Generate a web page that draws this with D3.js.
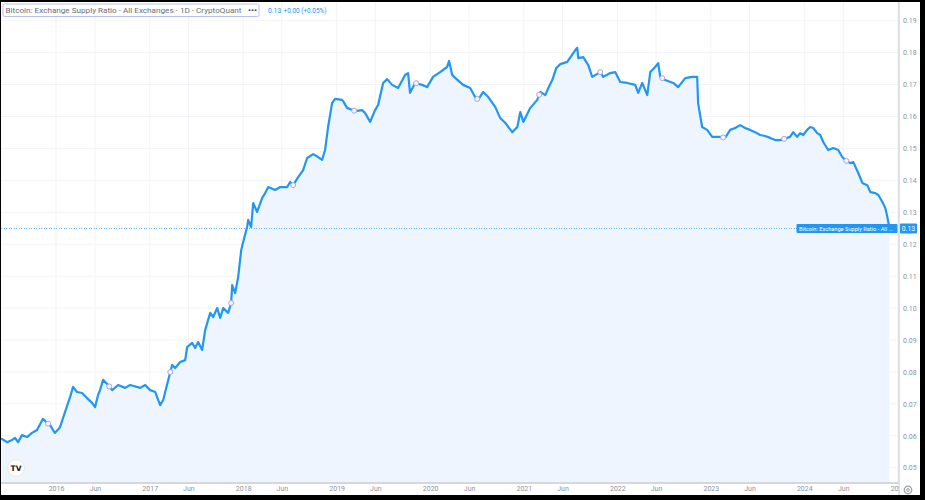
<!DOCTYPE html>
<html><head><meta charset="utf-8">
<script src="https://cdn.jsdelivr.net/npm/d3@7"></script>
<style>html,body{margin:0;padding:0;background:#000;} svg{display:block;}</style>
</head><body>
<svg id="chart" width="925" height="500"></svg>
<script>
// time as decimal years
const years = [2015.423,2015.476,2015.530,2015.562,2015.594,2015.636,2015.690,2015.743,2015.797,2015.861,2015.904,2015.936,2015.968,2015.989,2016.043,2016.096,2016.150,2016.182,2016.225,2016.278,2016.331,2016.385,2016.417,2016.449,2016.470,
2016.502,2016.556,2016.599,2016.663,2016.738,2016.791,2016.898,2016.952,2017.005,2017.059,2017.112,2017.144,2017.198,2017.240,2017.272,2017.326,
2017.379,2017.401,2017.454,2017.486,2017.518,2017.561,2017.593,2017.647,2017.679,2017.722,2017.754,2017.786,2017.839,2017.871,2017.882,2017.914,2017.946,2017.979,2018.000,2018.042,2018.053,2018.085,2018.107,2018.149,2018.203,2018.235,2018.268,2018.342,2018.396,2018.470,2018.502,2018.534,2018.588,2018.641,
2018.684,2018.748,2018.801,2018.844,2018.876,2018.908,2018.951,2018.983,2019.058,2019.069,2019.111,2019.197,2019.272,2019.304,2019.358,2019.411,2019.443,2019.497,2019.540,2019.593,2019.657,2019.732,2019.764,2019.785,2019.839,2019.914,2019.967,2020.031,2020.106,2020.181,2020.202,2020.235,2020.267,2020.352,2020.427,2020.480,2020.512,2020.566,2020.620,2020.694,2020.748,2020.801,2020.876,2020.930,2020.962,2020.994,2021.069,2021.143,2021.176,2021.229,2021.261,2021.304,2021.347,2021.390,
2021.464,2021.550,2021.571,2021.582,2021.635,2021.689,2021.731,2021.817,2021.849,2021.924,2021.977,2022.031,2022.106,2022.191,2022.223,2022.266,2022.320,2022.352,2022.405,2022.437,2022.459,2022.512,2022.598,2022.651,2022.726,2022.801,2022.854,2022.864,2022.907,2022.961,2023.014,2023.100,
2023.153,2023.207,2023.260,2023.314,2023.367,2023.420,2023.474,2023.527,2023.581,2023.635,2023.688,
2023.741,2023.784,2023.848,2023.881,2023.923,2023.955,2023.988,2024.030,2024.063,2024.095,2024.138,2024.170,2024.202,2024.255,2024.309,2024.362,2024.405,2024.448,2024.491,2024.523,2024.576,2024.619,2024.672,2024.705,2024.758,2024.790,2024.833,2024.865,2024.886,2024.908];
const ratios = [0.0590,0.0580,0.0587,0.0593,0.0580,0.0602,0.0596,0.0609,0.0618,0.0653,0.0640,0.0634,0.0618,0.0609,0.0627,0.0674,0.0721,0.0753,0.0737,0.0734,0.0718,0.0703,0.0690,0.0728,0.0743,
0.0775,0.0759,0.0743,0.0759,0.0750,0.0759,0.0750,0.0759,0.0743,0.0737,0.0696,0.0712,0.0775,0.0822,0.0812,0.0831,
0.0837,0.0878,0.0891,0.0875,0.0894,0.0869,0.0931,0.0985,0.0972,0.1000,0.0969,0.1000,0.0985,0.1016,0.1072,0.1047,0.1097,0.1182,0.1207,0.1254,0.1276,0.1254,0.1329,0.1301,0.1345,0.1360,0.1379,0.1370,0.1379,0.1379,0.1395,0.1385,0.1410,0.1432,
0.1470,0.1482,0.1473,0.1464,0.1495,0.1567,0.1642,0.1655,0.1652,0.1648,0.1627,0.1617,0.1620,0.1611,0.1583,0.1620,0.1636,0.1705,0.1717,0.1699,0.1689,0.1730,0.1736,0.1674,0.1705,0.1699,0.1692,0.1724,0.1739,0.1755,0.1774,0.1730,0.1721,0.1699,0.1689,0.1661,0.1652,0.1677,0.1661,0.1630,0.1595,0.1580,0.1551,0.1567,0.1614,0.1583,0.1627,0.1652,0.1677,0.1667,0.1689,0.1714,0.1752,0.1764,
0.1771,0.1808,0.1815,0.1783,0.1786,0.1761,0.1724,0.1739,0.1724,0.1736,0.1739,0.1708,0.1705,0.1699,0.1674,0.1705,0.1667,0.1739,0.1755,0.1767,0.1724,0.1714,0.1705,0.1692,0.1720,0.1724,0.1724,0.1642,0.1567,0.1558,0.1536,0.1536,
0.1533,0.1558,0.1564,0.1573,0.1564,0.1558,0.1551,0.1542,0.1539,0.1533,0.1526,
0.1526,0.1530,0.1536,0.1551,0.1536,0.1548,0.1542,0.1558,0.1567,0.1564,0.1548,0.1542,0.1520,0.1495,0.1501,0.1495,0.1473,0.1461,0.1454,0.1457,0.1423,0.1392,0.1385,0.1363,0.1360,0.1354,0.1332,0.1313,0.1285,0.1250];
const markerYears = [2015.915,2016.568,2017.220,2017.871,2018.534,2019.187,2019.850,2020.502,2021.164,2021.817,2022.480,2023.132,2023.784,2024.448];
const yTicks = [0.05,0.06,0.07,0.08,0.09,0.10,0.11,0.12,0.13,0.14,0.15,0.16,0.17,0.18,0.19];
const xTickDates = ["2016-01-01","2016-06-01","2017-01-01","2017-06-01","2018-01-01","2018-06-01","2019-01-01","2019-06-01","2020-01-01","2020-06-01","2021-01-01","2021-06-01","2022-01-01","2022-06-01","2023-01-01","2023-06-01","2024-01-01","2024-06-01","2025-01-01"];
const seriesTitle = "Bitcoin: Exchange Supply Ratio - All Exchanges - 1D - CryptoQuant";
const legendValue = "0.13";
const legendChange = "+0.00 (+0.05%)";
const priceLabelText = "Bitcoin: Exchange Supply Ratio - All ...";

const parse = d3.utcParse("%Y-%m-%d");
function yearToDate(t){
  const yr = Math.floor(t);
  const a = Date.UTC(yr,0,1), b = Date.UTC(yr+1,0,1);
  return new Date(a + (t-yr)*(b-a));
}
const data = years.map((t,i)=>({date:yearToDate(t), value:ratios[i]}));
const svg = d3.select("#chart");
const FONT = "Roboto, 'Noto Sans', sans-serif";

svg.append("rect").attr("x",1).attr("y",2).attr("width",919).attr("height",493).attr("fill","#fff");

const x = d3.scaleUtc().domain([parse("2016-01-01"), parse("2024-01-01")]).range([56, 804.3]);
const y = d3.scaleLinear().domain([0.05, 0.19]).range([467.7, 20.7]);
const plotLeft = 1, plotRight = 899, plotTop = 2, plotBottom = 483;

const defs = svg.append("defs");
defs.append("clipPath").attr("id","plotclip")
  .append("rect").attr("x",plotLeft).attr("y",plotTop).attr("width",plotRight-plotLeft).attr("height",plotBottom-plotTop);
defs.append("clipPath").attr("id","xaxisclip")
  .append("rect").attr("x",plotLeft).attr("y",plotBottom).attr("width",plotRight-plotLeft).attr("height",12);

const plot = svg.append("g").attr("clip-path","url(#plotclip)");
plot.append("g").selectAll("line").data(yTicks).join("line")
  .attr("x1",plotLeft).attr("x2",plotRight).attr("y1",d=>y(d)).attr("y2",d=>y(d))
  .attr("stroke","#f2f3f6").attr("stroke-width",1);
plot.append("g").selectAll("line").data(xTickDates.map(parse)).join("line")
  .attr("x1",d=>x(d)).attr("x2",d=>x(d)).attr("y1",plotTop).attr("y2",plotBottom)
  .attr("stroke","#f2f3f6").attr("stroke-width",1);

plot.append("path").datum(data)
  .attr("d", d3.area().x(d=>x(d.date)).y0(plotBottom).y1(d=>y(d.value)))
  .attr("fill","#eef5fe");

const last = data[data.length-1];
const ly = Math.round(y(last.value)) + 0.5;
plot.append("line").attr("x1",plotLeft).attr("x2",plotRight)
  .attr("y1",ly).attr("y2",ly)
  .attr("stroke","#64b5f6").attr("stroke-width",1).attr("stroke-dasharray","1,1.5")
  .attr("shape-rendering","crispEdges");

plot.append("path").datum(data)
  .attr("d", d3.line().x(d=>x(d.date)).y(d=>y(d.value)))
  .attr("fill","none").attr("stroke","#2196f3").attr("stroke-width",2.2)
  .attr("stroke-linejoin","round").attr("stroke-linecap","round");

const bis = d3.bisector(d=>d.date).left;
function valueAt(dt){
  const i = bis(data, dt);
  if (i<=0) return data[0].value;
  if (i>=data.length) return data[data.length-1].value;
  const a=data[i-1], b=data[i];
  const t=(dt-a.date)/(b.date-a.date);
  return a.value + t*(b.value-a.value);
}
plot.append("g").selectAll("circle").data(markerYears.map(yearToDate)).join("circle")
  .attr("cx",d=>x(d)).attr("cy",d=>y(valueAt(d))).attr("r",2.5)
  .attr("fill","#f6f4ff").attr("stroke","#aba5e4").attr("stroke-width",1);

svg.append("line").attr("x1",plotLeft).attr("x2",plotRight).attr("y1",plotBottom).attr("y2",plotBottom)
  .attr("stroke","#d6d7dd").attr("stroke-width",2);
svg.append("line").attr("x1",plotRight).attr("x2",plotRight).attr("y1",plotTop).attr("y2",495)
  .attr("stroke","#d6d7dd").attr("stroke-width",1.5);

const yAxis = svg.append("g").attr("transform",`translate(${plotRight},0)`)
  .call(d3.axisRight(y).tickValues(yTicks).tickFormat(d3.format(".2f")).tickSize(0).tickPadding(4));
yAxis.select(".domain").remove();
yAxis.selectAll("text").attr("fill","#8f929a").attr("font-size",7).attr("font-family",FONT);

const monthFmt = d => d.getUTCMonth()===0 ? d3.utcFormat("%Y")(d) : d3.utcFormat("%b")(d);
const xAxis = svg.append("g").attr("clip-path","url(#xaxisclip)").append("g")
  .attr("transform",`translate(0,${plotBottom})`)
  .call(d3.axisBottom(x).tickValues(xTickDates.map(parse)).tickFormat(monthFmt).tickSize(0).tickPadding(3));
xAxis.select(".domain").remove();
xAxis.selectAll("text").attr("fill","#8f929a").attr("font-size",7).attr("font-family",FONT);

const lg = svg.append("g");
lg.append("rect").attr("x",3).attr("y",4).attr("width",256).attr("height",12.5)
  .attr("fill","#fff").attr("stroke","#b7c3ec").attr("stroke-width",1).attr("rx",1.5);
lg.append("text").attr("x",5.5).attr("y",13.3).text(seriesTitle)
  .attr("font-family",FONT).attr("font-size",8).attr("fill","#6b6e78")
  .attr("textLength",236).attr("lengthAdjust","spacingAndGlyphs");
lg.append("text").attr("x",248).attr("y",12.8).text("•••")
  .attr("font-family",FONT).attr("font-size",7).attr("font-weight","bold").attr("fill","#4a4d57")
  .attr("textLength",9).attr("lengthAdjust","spacingAndGlyphs");
lg.append("text").attr("x",268).attr("y",12.8).text(legendValue)
  .attr("font-family",FONT).attr("font-size",6.8).attr("fill","#2196f3");
lg.append("text").attr("x",283.5).attr("y",12.8).text(legendChange)
  .attr("font-family",FONT).attr("font-size",6.8).attr("fill","#2196f3")
  .attr("textLength",43).attr("lengthAdjust","spacingAndGlyphs");

svg.append("rect").attr("x",796.5).attr("y",ly-4.5).attr("width",101).attr("height",9).attr("fill","#2196f3").attr("rx",1);
svg.append("text").attr("x",799).attr("y",ly+2.3).text(priceLabelText)
  .attr("font-family",FONT).attr("font-size",6.2).attr("fill","#fff")
  .attr("textLength",94).attr("lengthAdjust","spacingAndGlyphs");
svg.append("rect").attr("x",900).attr("y",ly-5).attr("width",17).attr("height",10).attr("fill","#2196f3").attr("rx",1);
svg.append("text").attr("x",908.5).attr("y",ly+2.4).attr("text-anchor","middle").text(legendValue)
  .attr("font-family",FONT).attr("font-size",6.8).attr("fill","#fff");

const tv = svg.append("g").attr("transform","translate(16,468)");
tv.append("circle").attr("r",8.5).attr("fill","#fff").attr("stroke","#e6e8ee").attr("stroke-width",1);
tv.append("text").attr("y",3).attr("text-anchor","middle").text("TV")
  .attr("font-family","'DejaVu Sans', sans-serif").attr("font-weight","bold").attr("font-size",7.5).attr("fill","#131722");

const st = svg.append("g").attr("transform","translate(908,490)");
st.append("circle").attr("r",3.8).attr("fill","none").attr("stroke","#9a9ca5").attr("stroke-width",1.2);
st.append("circle").attr("r",1.4).attr("fill","none").attr("stroke","#9a9ca5").attr("stroke-width",1);
</script>
</body></html>
